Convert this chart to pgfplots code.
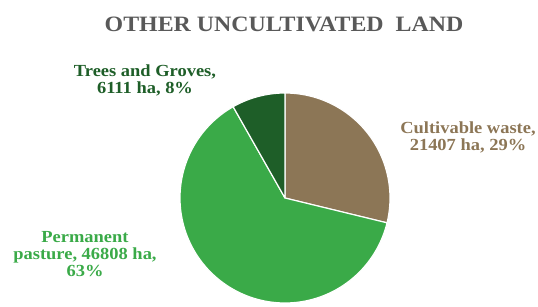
\documentclass[border=0pt]{standalone}
\usepackage{pgfplots}
\pgfplotsset{compat=1.18}
\usepackage{pgfplotstable}
\usepackage{fontspec}
\setmainfont{Liberation Serif}[FakeStretch=1.09]
\definecolor{cwaste}{HTML}{8C7656}
\definecolor{pasture}{HTML}{3AAA48}
\definecolor{trees}{HTML}{1E5E28}
\definecolor{titlegray}{HTML}{595959}

\pgfplotstableread{
label value
Cultivable 21407
Pasture 46808
Trees 6111
}\pietable

\begin{document}
\begin{tikzpicture}
\pgfplotstablegetelem{0}{value}\of\pietable \let\va\pgfplotsretval
\pgfplotstablegetelem{1}{value}\of\pietable \let\vb\pgfplotsretval
\pgfplotstablegetelem{2}{value}\of\pietable \let\vc\pgfplotsretval
\edef\tot{\fpeval{\va+\vb+\vc}}
\edef\aA{90}
\edef\aB{\fpeval{round(90-360*\va/\tot,4)}}
\edef\aC{\fpeval{round(\aB-360*\vb/\tot,4)}}
\edef\aD{\fpeval{round(\aC-360*\vc/\tot,4)}}
\path[use as bounding box] (0,0) rectangle (538bp,-307bp);
\begin{axis}[at={(285bp,-198bp)}, anchor=center, scale only axis,
  width=210bp, height=210bp, xmin=-1, xmax=1, ymin=-1, ymax=1,
  hide axis, clip=false]
\addplot[fill=cwaste, draw=white, line width=1.2pt, line join=round, domain=\aB:\aA, samples=80, variable=\t]
  ({cos(t)},{sin(t)}) -- (axis cs:0,0) -- cycle;
\addplot[fill=pasture, draw=white, line width=1.2pt, line join=round, domain=\aC:\aB, samples=120, variable=\t]
  ({cos(t)},{sin(t)}) -- (axis cs:0,0) -- cycle;
\addplot[fill=trees, draw=white, line width=1.2pt, line join=round, domain=\aD:\aC, samples=40, variable=\t]
  ({cos(t)},{sin(t)}) -- (axis cs:0,0) -- cycle;
\end{axis}
\node[font=\bfseries\fontsize{22}{24}\selectfont, text=titlegray] at (284bp,-24bp) {OTHER UNCULTIVATED\ \ LAND};
\node[font=\bfseries\fontsize{17}{17}\selectfont, text=trees, align=center] at (145bp,-80bp) {Trees and Groves,\\6111 ha, 8\%};
\node[font=\bfseries\fontsize{17}{17}\selectfont, text=cwaste, align=center] at (468bp,-137bp) {Cultivable waste,\\21407 ha, 29\%};
\node[font=\bfseries\fontsize{17}{17}\selectfont, text=pasture, align=center] at (85bp,-254bp) {Permanent\\pasture, 46808 ha,\\63\%};
\end{tikzpicture}
\end{document}
